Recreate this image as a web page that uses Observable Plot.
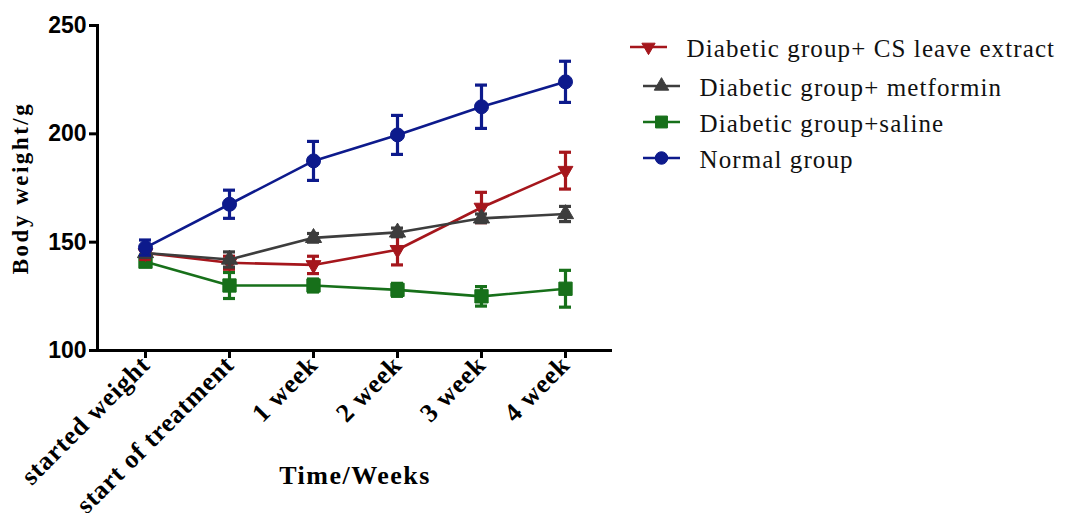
<!DOCTYPE html>
<html>
<head>
<meta charset="utf-8">
<script src="https://cdn.jsdelivr.net/npm/d3@7"></script>
<script src="https://cdn.jsdelivr.net/npm/@observablehq/plot@0.6"></script>
<style>
  html, body { margin: 0; padding: 0; background: #fff; }
  #chart { position: relative; width: 1067px; height: 513px; }
  .serif-reg { font-family: "Liberation Serif", "Times New Roman", Tinos, "DejaVu Serif", serif !important; font-weight: normal; }
</style>
</head>
<body>
<div id="chart"></div>
<script>
// ---- data ----
const categories = ["started weight", "start of treatment", "1 week", "2 week", "3 week", "4 week"];
const seriesNames = ["Diabetic group+ CS leave extract", "Diabetic group+ metformin", "Diabetic group+saline", "Normal group"];
const csMean = [145, 140.5, 139.5, 146.5, 166, 183];
const csErr = [3, 3, 4, 7, 7, 8.5];
const metMean = [145, 142, 152, 154.5, 161, 163];
const metErr = [2, 3.5, 2, 2, 2, 3.5];
const salMean = [141, 130, 130, 128, 125, 128.5];
const salErr = [2, 6, 3, 3, 4.5, 8.5];
const normMean = [147.5, 167.5, 187.5, 199.5, 212.5, 224];
const normErr = [3.5, 6.5, 9, 9, 10, 9.5];
const yTicks = [100, 150, 200, 250];

// ---- styles ----
const colors = ["#a5161c", "#3d3d3d", "#17701a", "#0d1a8c"];
const symbols = ["triangle", "triangle", "square", "circle"];
const rotations = [180, 0, 0, 0];
const radii = [5.5, 6, 7.5, 7];
const means = [csMean, metMean, salMean, normMean];
const errs = [csErr, metErr, salErr, normErr];

const series = seriesNames.map((name, s) =>
  categories.map((c, i) => ({ name, cat: c, m: means[s][i], e: errs[s][i] }))
);

const drawOrder = [2, 0, 1, 3];
const dataMarks = [];
for (const s of drawOrder) {
  const d = series[s];
  const col = colors[s];
  dataMarks.push(
    Plot.line(d, { x: "cat", y: "m", stroke: col, strokeWidth: 2.6 }),
    Plot.ruleX(d, { x: "cat", y1: (v) => v.m - v.e, y2: (v) => v.m + v.e, stroke: col, strokeWidth: 3.2 }),
    Plot.ruleY(d, { x1: "cat", x2: "cat", y: (v) => v.m + v.e, stroke: col, strokeWidth: 3.2, insetLeft: -6, insetRight: -6 }),
    Plot.ruleY(d, { x1: "cat", x2: "cat", y: (v) => v.m - v.e, stroke: col, strokeWidth: 3.2, insetLeft: -6, insetRight: -6 }),
    Plot.dot(d, { x: "cat", y: "m", symbol: symbols[s], r: radii[s], rotate: rotations[s], fill: col, stroke: col, strokeWidth: 1 })
  );
}

const serif = "Liberation Serif, Times New Roman, DejaVu Serif, serif";
const sans = "Liberation Sans, Arial, sans-serif";

const mL = 97, mT = 25;
// legend rows (layout): line x-range, row centre y, text x
const legendRows = [
  { x1: 630, x2: 667, y: 47, tx: 686 },
  { x1: 643, x2: 680, y: 86, tx: 699 },
  { x1: 643, x2: 680, y: 122, tx: 699 },
  { x1: 643, x2: 680, y: 158, tx: 699 }
];
const legendTextMarks = seriesNames.map((name, s) =>
  Plot.text([name], {
    frameAnchor: "top-left", dx: legendRows[s].tx - mL, dy: legendRows[s].y - mT + 1,
    textAnchor: "start", lineAnchor: "middle", fontSize: 25, fontFamily: serif, fill: "#111",
    className: "legend-label"
  })
);

const chart = Plot.plot({
  width: 1067,
  height: 513,
  marginLeft: mL,
  marginRight: 455,
  marginTop: mT,
  marginBottom: 163,
  style: { background: "#fff", color: "#000" },
  x: { type: "point", domain: categories, padding: 0.55 },
  y: { domain: [100, 250] },
  marks: [
    Plot.axisY({ ticks: yTicks, tickSize: 8, tickPadding: 3, tickFormat: (d) => d, fontSize: 23, fontWeight: "bold", fontFamily: sans, strokeWidth: 3, label: null }),
    Plot.axisX({ tickSize: 8, tickPadding: 2, tickRotate: -45, fontSize: 26, fontWeight: "bold", fontFamily: serif, strokeWidth: 3, label: null }),
    Plot.ruleY([100], { stroke: "#000", strokeWidth: 3 }),
    Plot.frame({ anchor: "left", stroke: "#000", strokeWidth: 3 }),
    Plot.text(["Body weight/g"], { frameAnchor: "left", dx: -77, rotate: -90, textAnchor: "middle", fontSize: 23, fontWeight: "bold", fontFamily: serif, fill: "#000" }),
    Plot.text(["Time/Weeks"], { frameAnchor: "bottom", dy: 133, textAnchor: "middle", fontSize: 26, fontWeight: "bold", fontFamily: serif, fill: "#000" }),
    ...legendTextMarks,
    ...dataMarks
  ]
});

document.getElementById("chart").appendChild(chart);

const svg = d3.select(chart);
// widen spacing like the original type
svg.selectAll("text").each(function () {
  const t = d3.select(this);
  const txt = t.text();
  if (txt === "Body weight/g") t.attr("letter-spacing", 2.5);
  if (txt === "Time/Weeks") t.attr("letter-spacing", 1.5);
  if (seriesNames.includes(txt)) t.attr("letter-spacing", 1.1).classed("serif-reg", true);
});
svg.selectAll("[aria-label='x-axis tick label'] text").attr("letter-spacing", 0.8);

// ---- legend keys (line + symbol) ----
const lg = svg.append("g").attr("class", "legend-keys");
seriesNames.forEach((name, s) => {
  const r = legendRows[s];
  const col = colors[s];
  lg.append("line").attr("x1", r.x1).attr("x2", r.x2).attr("y1", r.y).attr("y2", r.y)
    .attr("stroke", col).attr("stroke-width", 2.6);
  const sym = { triangle: d3.symbolTriangle, square: d3.symbolSquare, circle: d3.symbolCircle }[symbols[s]];
  const size = Math.PI * radii[s] * radii[s] * 0.8;
  lg.append("path").attr("d", d3.symbol(sym, size)())
    .attr("transform", `translate(${(r.x1 + r.x2) / 2},${r.y}) rotate(${rotations[s]})`)
    .attr("fill", col).attr("stroke", col);
});
</script>
</body>
</html>
